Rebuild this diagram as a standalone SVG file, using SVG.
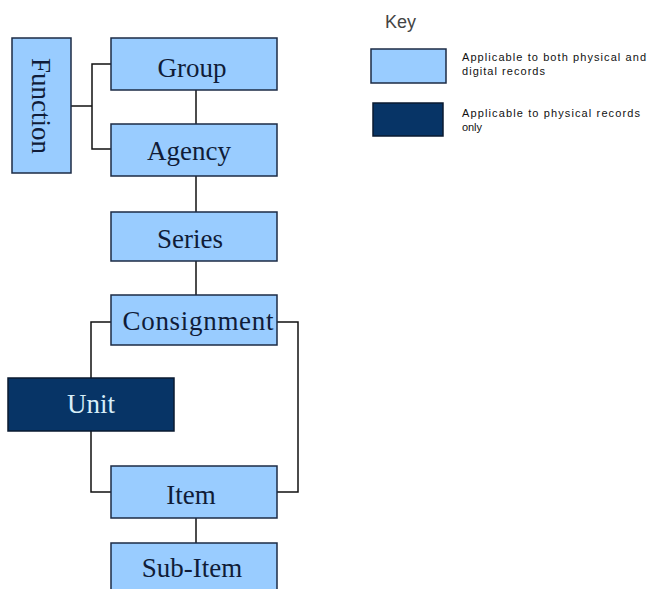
<svg xmlns="http://www.w3.org/2000/svg" width="647" height="589" viewBox="0 0 647 589">
<style>
.box{fill:#99ccff;stroke:#1c2b45;stroke-width:1.5}
.dark{fill:#073466;stroke:#0a1a30;stroke-width:1.5}
.lbl{font-family:"Liberation Serif","Times New Roman",serif;font-size:27px;fill:#101c38;text-anchor:middle}
.lbl-l{fill:#d8eef8}
.conn{fill:none;stroke:#111;stroke-width:1.5}
.key{font-family:"Liberation Sans",Arial,sans-serif;font-size:11px;fill:#111}
</style>
<rect width="647" height="589" fill="#ffffff"/>
<g id="connectors">
<polyline class="conn" points="71,106 92,106"/>
<polyline class="conn" points="111,64 92,64 92,149 111,149"/>
<line class="conn" x1="196" y1="90" x2="196" y2="124"/>
<line class="conn" x1="196" y1="176" x2="196" y2="212"/>
<line class="conn" x1="196" y1="261" x2="196" y2="295"/>
<polyline class="conn" points="111,322 91,322 91,378"/>
<polyline class="conn" points="91,431 91,492 111,492"/>
<polyline class="conn" points="277,322 298,322 298,492 277,492"/>
<line class="conn" x1="196" y1="518" x2="196" y2="543"/>
</g>
<g id="function">
<rect class="box" x="12" y="38" width="59" height="135"/>
<text class="lbl" transform="translate(32,106) rotate(90)">Function</text>
</g>
<g id="group">
<rect class="box" x="111" y="38" width="166" height="52"/>
<text class="lbl" x="192" y="77">Group</text>
</g>
<g id="agency">
<rect class="box" x="111" y="124" width="166" height="52"/>
<text class="lbl" x="189" y="160">Agency</text>
</g>
<g id="series">
<rect class="box" x="111" y="212" width="166" height="49"/>
<text class="lbl" x="190" y="248">Series</text>
</g>
<g id="consignment">
<rect class="box" x="111" y="295" width="166" height="50"/>
<text class="lbl" x="198" y="330" textLength="151">Consignment</text>
</g>
<g id="unit">
<rect class="dark" x="8" y="378" width="166" height="53"/>
<text class="lbl lbl-l" x="91" y="413">Unit</text>
</g>
<g id="item">
<rect class="box" x="111" y="466" width="166" height="52"/>
<text class="lbl" x="191" y="504">Item</text>
</g>
<g id="subitem">
<rect class="box" x="111" y="543" width="166" height="52"/>
<text class="lbl" x="192" y="577">Sub-Item</text>
</g>
<g id="key">
<text x="385" y="28" font-family="'Liberation Sans',Arial,sans-serif" font-size="18" fill="#444">Key</text>
<rect class="box" x="371" y="49" width="75" height="34"/>
<rect class="dark" x="373" y="103" width="70" height="33"/>
<text class="key" x="462" y="61" textLength="184">Applicable to both physical and</text>
<text class="key" x="462" y="75" textLength="83">digital records</text>
<text class="key" x="462" y="117" textLength="178">Applicable to physical records</text>
<text class="key" x="462" y="131" textLength="20">only</text>
</g>
</svg>
